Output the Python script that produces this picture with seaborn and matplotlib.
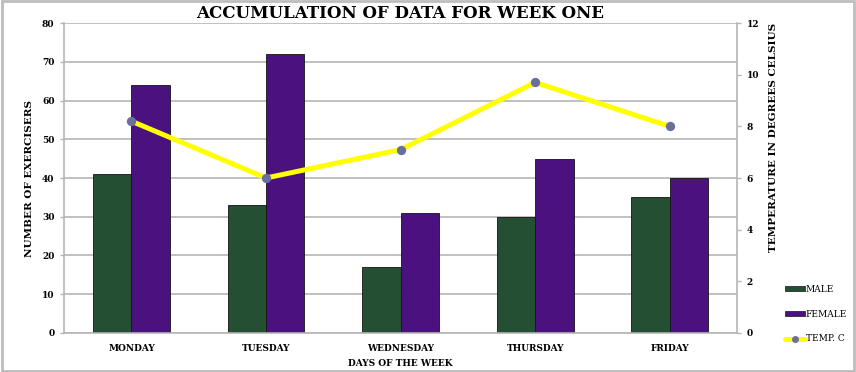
import numpy as np
import pandas as pd
import matplotlib
matplotlib.use("Agg")
import matplotlib.pyplot as plt
import seaborn as sns
from matplotlib.patches import Patch, Rectangle
from matplotlib.lines import Line2D

# Données de la semaine
days = ["MONDAY", "TUESDAY", "WEDNESDAY", "THURSDAY", "FRIDAY"]
male = [41, 33, 17, 30, 35]
female = [64, 72, 31, 45, 40]
temp_c = [8.2, 6.0, 7.1, 9.7, 8.0]

GREEN = "#244f33"
PURPLE = "#4a117f"
YELLOW = "#ffff00"
MARKER = "#6b6f9e"
GRID = "#b5b5b5"

sns.set_theme(style="white")
plt.rcParams["font.family"] = ["DejaVu Serif", "DejaVu Sans"]
plt.rcParams["text.color"] = "black"
plt.rcParams["axes.labelcolor"] = "black"
plt.rcParams["xtick.labelcolor"] = "black"
plt.rcParams["ytick.labelcolor"] = "black"

df = pd.DataFrame({
    "day": days * 2,
    "count": male + female,
    "sex": ["MALE"] * 5 + ["FEMALE"] * 5,
})

fig, ax = plt.subplots(figsize=(8.56, 3.72), dpi=100)
fig.subplots_adjust(left=0.075, right=0.861, top=0.938, bottom=0.105)

sns.barplot(data=df, x="day", y="count", hue="sex", order=days,
            hue_order=["MALE", "FEMALE"], palette=[GREEN, PURPLE],
            width=0.57, saturation=1, edgecolor="#141414", linewidth=0.6,
            legend=False, ax=ax)

ax.set_ylim(0, 80)
ax.set_yticks(range(0, 81, 10))
ax.yaxis.grid(True, color=GRID, linewidth=1.2)
ax.set_axisbelow(True)
for s in ["top", "right"]:
    ax.spines[s].set_visible(False)
for s in ["left", "bottom"]:
    ax.spines[s].set_color(GRID)
    ax.spines[s].set_linewidth(1.2)

ax.set_xlim(-0.5, 4.5)
ax.set_xticks(np.arange(-0.5, 5, 1), minor=True)
ax.tick_params(axis="x", which="major", length=0, pad=8)
ax.tick_params(axis="x", which="minor", length=3, color=GRID, width=1)
ax.tick_params(axis="y", length=3, color=GRID, width=1, pad=4, left=True)
for lbl in ax.get_xticklabels() + ax.get_yticklabels():
    lbl.set_fontsize(6.5)
    lbl.set_fontweight("bold")
    lbl.set_color("black")

ax.set_xlabel("DAYS OF THE WEEK", fontsize=6.5, fontweight="bold", labelpad=4)
ax.set_ylabel("NUMBER OF EXERCISERS", fontsize=7.5, fontweight="bold", labelpad=6)
ax.set_title("ACCUMULATION OF DATA FOR WEEK ONE", fontsize=12,
             fontweight="bold", color="black", pad=4)

# Température sur l'axe secondaire
ax2 = ax.twinx()
sns.pointplot(x=days, y=temp_c, order=days, color=YELLOW, markers="o",
              linewidth=3.6, markersize=4, ax=ax2)
for ln in ax2.lines:
    ln.set_markerfacecolor(MARKER)
    ln.set_markeredgecolor(MARKER)
ax2.set_xlim(-0.5, 4.5)
ax2.set_ylim(0, 12)
ax2.set_yticks(range(0, 13, 2))
for s in ["top", "left", "bottom"]:
    ax2.spines[s].set_visible(False)
ax2.spines["right"].set_color(GRID)
ax2.spines["right"].set_linewidth(1.2)
ax2.tick_params(axis="y", length=3, color=GRID, width=1, pad=4, right=True)
for lbl in ax2.get_yticklabels():
    lbl.set_fontsize(6.5)
    lbl.set_fontweight("bold")
    lbl.set_color("black")
ax2.set_ylabel("TEMPERATURE IN DEGREES CELSIUS", fontsize=7.5,
               fontweight="bold", labelpad=6)
ax2.yaxis.set_label_coords(1.047, 0.63)
ax2.grid(False)

handles = [
    Patch(facecolor=GREEN, edgecolor="#141414", linewidth=0.5),
    Patch(facecolor=PURPLE, edgecolor="#141414", linewidth=0.5),
    Line2D([], [], color=YELLOW, linewidth=3.6, marker="o", markersize=4,
           markerfacecolor=MARKER, markeredgecolor=MARKER),
]
fig.legend(handles, ["MALE", "FEMALE", "TEMP. C"], loc="lower left",
           bbox_to_anchor=(0.913, 0.067), frameon=False, fontsize=6.5,
           handlelength=2.2, handleheight=0.4, handletextpad=0.1,
           labelspacing=1.75, borderaxespad=0)

# Cadre gris autour de la figure
fig.patches.append(Rectangle((0.002, 0.004), 0.996, 0.992,
                             transform=fig.transFigure, fill=False,
                             edgecolor="#bdbdbd", linewidth=2))

fig.savefig("out.png", dpi=100)
